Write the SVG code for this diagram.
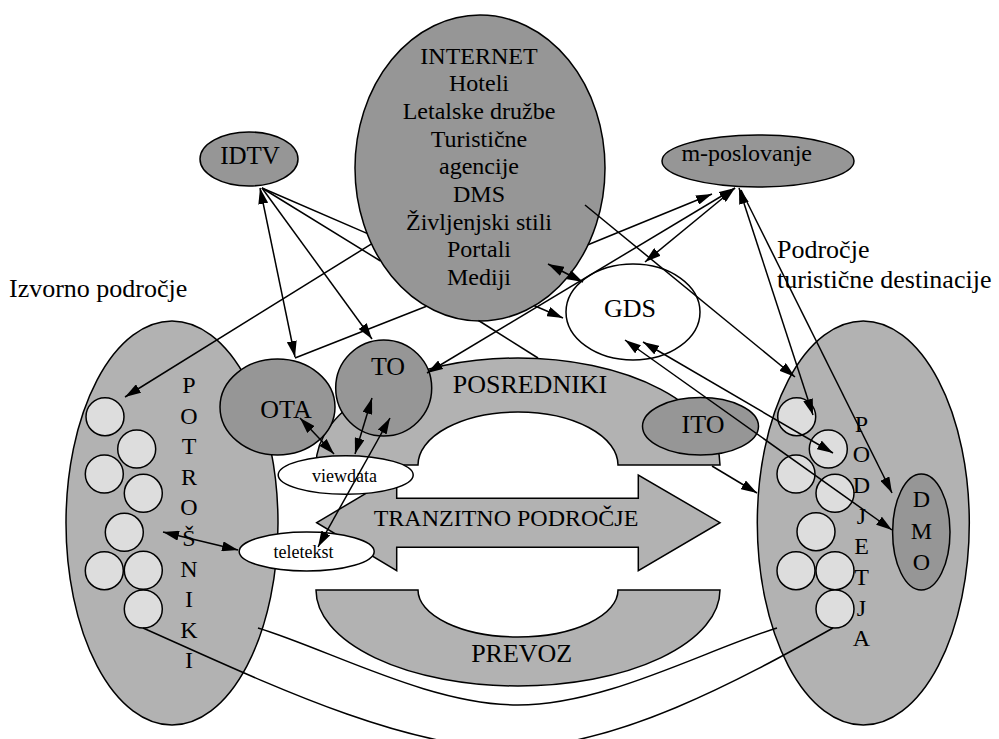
<svg xmlns="http://www.w3.org/2000/svg" width="999" height="739" viewBox="0 0 999 739" font-family="'Liberation Serif', 'Times New Roman', serif">
<style>
text{font-family:"Liberation Serif","Times New Roman",serif;fill:#000}
.dk{fill:#969696;stroke:#000;stroke-width:1.5}
.md{fill:#b2b2b2;stroke:#000;stroke-width:1.5}
.lt{fill:#dddddd;stroke:#000;stroke-width:1.5}
.wh{fill:#fff;stroke:#000;stroke-width:1.5}
.c{stroke:#000;stroke-width:1.5;fill:none}
.a1{marker-end:url(#ah)}
.a2{marker-start:url(#ah);marker-end:url(#ah)}
.t24{font-size:24px;text-anchor:middle}
.t26{font-size:26px;text-anchor:middle}
.t18{font-size:18px;text-anchor:middle}
</style>
<defs>
<marker id="ah" viewBox="0 0 16 10" refX="16" refY="5" markerWidth="16" markerHeight="10" markerUnits="userSpaceOnUse" orient="auto-start-reverse"><path d="M0,0 L16,5 L0,10 z" fill="#000"/></marker>
<circle id="sc" r="19" class="lt"/>
</defs>
<rect width="999" height="739" fill="#fff"/>

<g id="potrosniki">
<ellipse cx="172" cy="523" rx="106" ry="202" class="md"/>
<use href="#sc" x="105" y="416.7"/><use href="#sc" x="136.7" y="449"/><use href="#sc" x="104.3" y="474"/><use href="#sc" x="143.3" y="493.3"/>
<use href="#sc" x="124.3" y="532.3"/><use href="#sc" x="104.3" y="570.7"/><use href="#sc" x="143.3" y="570.3"/><use href="#sc" x="143.3" y="609"/>
<g class="t24" font-family="'Liberation Serif', serif"><text x="189" y="393">P</text><text x="189" y="423.6">O</text><text x="189" y="454.2">T</text><text x="189" y="484.8">R</text><text x="189" y="515.4">O</text><text x="189" y="546">Š</text><text x="189" y="576.6">N</text><text x="189" y="607.2">I</text><text x="189" y="637.8">K</text><text x="189" y="668.4">I</text></g>
</g>

<g id="podjetja">
<ellipse cx="863.3" cy="523" rx="106" ry="202" class="md"/>
<use href="#sc" x="796.7" y="416.7"/><use href="#sc" x="828.3" y="449"/><use href="#sc" x="796" y="474"/><use href="#sc" x="835" y="493.3"/>
<use href="#sc" x="816" y="531.7"/><use href="#sc" x="796" y="570.7"/><use href="#sc" x="835" y="570.7"/><use href="#sc" x="835" y="609"/>
<g class="t24" font-family="'Liberation Serif', serif"><text x="861.5" y="431.7">P</text><text x="861.5" y="462.4">O</text><text x="861.5" y="493">D</text><text x="861.5" y="523.7">J</text><text x="861.5" y="554.3">E</text><text x="861.5" y="585">T</text><text x="861.5" y="615.6">J</text><text x="861.5" y="646.3">A</text></g>
</g>

<g id="dmo">
<ellipse cx="921.3" cy="532" rx="28.7" ry="58" class="dk"/>
<g class="t24" font-family="'Liberation Serif', serif"><text x="921.3" y="507">D</text><text x="921.3" y="538.5">M</text><text x="921.3" y="570">O</text></g>
</g>

<g id="posredniki">
<path d="M316,465 A202,107 0 0 1 720,465 L618,465 A100,53 0 0 0 418,465 Z" class="md"/>
<text x="530" y="393.3" class="t26" font-family="'Liberation Serif', serif">POSREDNIKI</text>
</g>

<g id="tranzitno">
<path d="M316.7,522.7 L396.7,475 L396.7,498.3 L638.3,498.3 L638.3,475 L720,522.7 L638.3,570.7 L638.3,547.3 L396.7,547.3 L396.7,570.7 Z" class="md"/>
<text x="506" y="526" class="t24" font-family="'Liberation Serif', serif">TRANZITNO PODROČJE</text>
</g>

<g id="prevoz">
<path d="M316,590 L418,590 A100,47 0 0 0 618,590 L720,590 A202,96 0 0 1 316,590 Z" class="md"/>
<text x="521.7" y="662.3" class="t26" font-family="'Liberation Serif', serif">PREVOZ</text>
</g>

<g id="ota">
<ellipse cx="277.5" cy="407" rx="57.5" ry="48" class="dk"/>
<text x="286" y="417.5" class="t26" font-family="'Liberation Serif', serif">OTA</text>
</g>

<g id="to">
<circle cx="383.7" cy="388" r="48" class="dk"/>
<text x="388" y="375" class="t26" font-family="'Liberation Serif', serif">TO</text>
</g>

<g id="ito">
<ellipse cx="700.5" cy="426.3" rx="58" ry="28.7" class="dk"/>
<text x="703" y="433.3" class="t26" font-family="'Liberation Serif', serif">ITO</text>
</g>

<g id="viewdata">
<ellipse cx="345.7" cy="475" rx="67.5" ry="19.3" class="wh"/>
<text x="344.5" y="481.7" class="t18" font-family="'Liberation Serif', serif">viewdata</text>
</g>

<g id="teletekst">
<ellipse cx="306.7" cy="551.5" rx="67.5" ry="19.5" class="wh"/>
<text x="303.5" y="558.3" class="t18" font-family="'Liberation Serif', serif">teletekst</text>
</g>

<g id="idtv">
<ellipse cx="249" cy="159" rx="49" ry="27" class="dk"/>
<text x="250" y="164" font-size="25" text-anchor="middle" font-family="'Liberation Serif', serif">IDTV</text>
</g>

<g id="mposlovanje">
<ellipse cx="758" cy="161" rx="96" ry="26" class="dk"/>
<text x="746.7" y="160.7" class="t24" font-family="'Liberation Serif', serif">m-poslovanje</text>
</g>

<g id="gds">
<ellipse cx="633" cy="312" rx="67" ry="48" class="wh"/>
<text x="630" y="317" class="t26" font-family="'Liberation Serif', serif">GDS</text>
</g>

<g id="internet">
<ellipse cx="480" cy="168" rx="125" ry="153" class="dk"/>
<g class="t24" font-family="'Liberation Serif', serif">
<text x="479" y="63.5">INTERNET</text>
<text x="479" y="91.2">Hoteli</text>
<text x="479" y="118.9">Letalske družbe</text>
<text x="479" y="146.6">Turistične</text>
<text x="479" y="174.3">agencije</text>
<text x="479" y="202">DMS</text>
<text x="479" y="229.7">Življenjski stili</text>
<text x="479" y="257.4">Portali</text>
<text x="479" y="285.1">Mediji</text>
</g>
</g>

<g id="labels" font-family="'Liberation Serif', serif">
<text x="9" y="297" font-size="26">Izvorno področje</text>
<text x="777" y="258" font-size="26">Področje</text>
<text x="777" y="288" font-size="26">turistične destinacije</text>
</g>

<g id="connectors" class="c">
<path class="a2" d="M295,357 L260,188"/>
<path class="a1" d="M262,188 L372,339"/>
<path d="M262,188 L367,233.4"/>
<path class="a1" d="M534,305.5 L563,318"/>
<path d="M262,188 L380.5,261"/>
<path d="M478.5,320.5 L538,358"/>
<path d="M295,358 L426.5,306.3"/>
<path class="a1" d="M588,244.7 L712,194"/>
<path class="a1" d="M372,243.6 L125,397"/>
<path class="a1" d="M585,205 L795,377"/>
<path class="a2" d="M548,264 L583,282"/>
<path class="a2" d="M427,373 L735,188"/>
<path class="a2" d="M645,262 L735,188"/>
<path class="a2" d="M739,188 L813,415"/>
<path class="a1" d="M741,190 L892,493"/>
<path class="a2" d="M643,342 L833,453"/>
<path class="a2" d="M625,340 L892,530"/>
<path class="a1" d="M712,466 L757,493"/>
<path class="a2" d="M300,418 L334,454"/>
<path class="a2" d="M372,398 L355,454"/>
<path class="a2" d="M390,418 L318,547"/>
<path class="a2" d="M163,532 L238,550"/>
<path d="M258,628 C330,650 430,705 518,705 C606,705 705,650 777,628"/>
<path d="M143,628 C260,680 400,748 508,748 C616,748 740,680 833,628"/>
</g>
</svg>
